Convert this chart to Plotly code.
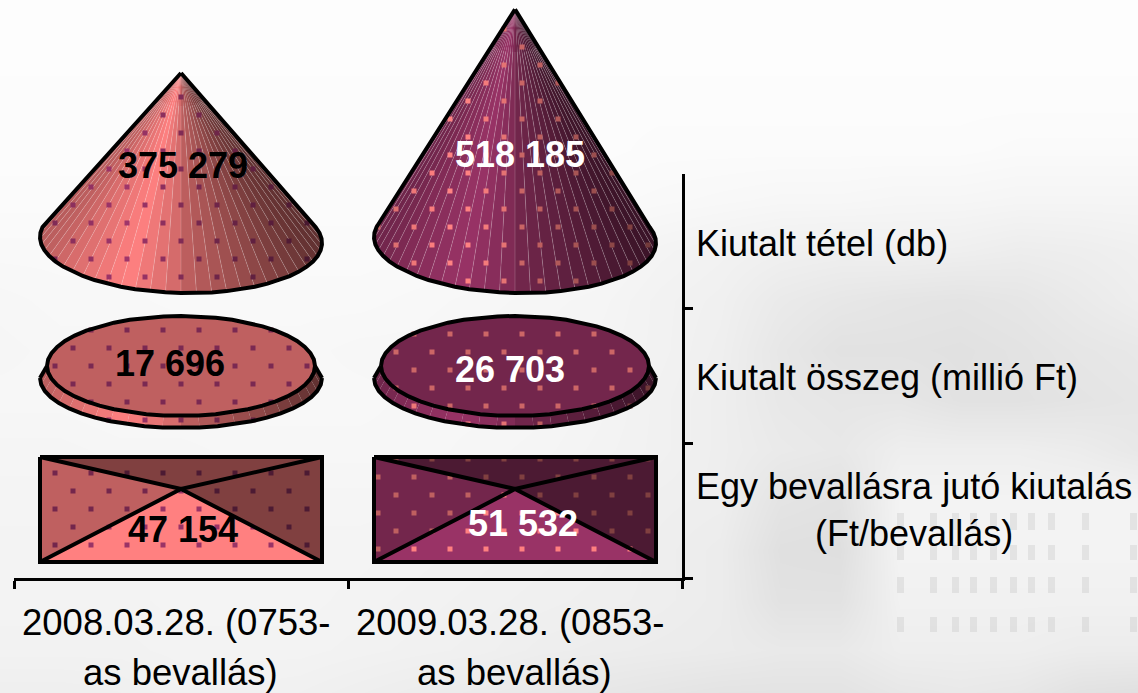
import numpy as np
import plotly.graph_objects as go

categories_line1 = ["2008.03.28. (0753-", "2009.03.28. (0853-"]
categories_line2 = ["as bevallás)", "as bevallás)"]
row_labels = ["Kiutalt tétel (db)", "Kiutalt összeg (millió Ft)",
              "Egy bevallásra jutó kiutalás<br>(Ft/bevallás)"]
kiutalt_tetel = [375279, 518185]
kiutalt_osszeg = [17696, 26703]
egy_bevallasra = [47154, 51532]

series_rgb = [(255, 128, 128), (153, 51, 102)]
dot_rgb = [(153, 51, 102), (255, 128, 128)]
label_rgb = ["#000000", "#ffffff"]

W, H = 1138, 693
CX = [181, 515]
A = 141
CONE_BASE_Y, CONE_B, CONE_SCALE = 240, 53, 167 / 375279
DISC_TOP_Y, DISC_BOT_Y, DISC_A, DISC_B = 366, 378, 134, 50
BOX_TOP, BOX_BOT, BOX_APEX = 457, 562, 489
LABEL_Y = [[169, 158], [367, 373], [533, 527]]
LABEL_DX = [[2, 5], [-11, -5], [2, 8]]
DOT_PHASE = [(181, 277, 348, 491), (504, 281, 352, 495)]

bg_rows = [
 [253]*20,
 [253]*20,
 [252]*20,
 [252,252,252,252,252,252,252,252,252,252,252,251,251,251,251,251,251,250,250,250],
 [251,251,251,251,251,251,251,251,250,250,250,249,248,247,247,246,246,245,245,245],
 [249,249,249,250,250,250,250,250,249,248,247,244,242,240,239,240,239,237,238,240],
 [247,248,248,249,249,249,249,248,247,246,245,242,240,234,231,229,228,230,234,238],
 [246,247,247,247,248,248,247,247,246,245,244,242,239,231,226,226,225,227,230,232],
 [247,247,248,248,248,248,248,247,247,246,244,241,238,232,230,230,226,226,228,230],
 [245,245,246,246,247,247,247,247,246,245,243,241,238,234,232,238,238,238,236,232],
 [244,244,244,245,245,245,245,245,244,243,241,239,238,228,226,243,243,243,243,243],
 [243,243,243,244,244,244,244,243,242,241,240,238,236,224,223,243,243,243,243,243],
 [243,243,243,244,244,244,243,242,241,240,239,238,236,226,226,241,241,241,241,241],
 [242,242,242,243,243,243,242,241,240,238,237,236,235,233,233,238,238,238,236,236],
 [238,238,239,241,241,240,238,236,234,232,230,228,226,226,226,230,232,230,224,222],
]
bg_z = np.array(bg_rows, dtype=float)
bg_x = np.arange(bg_z.shape[1]) * 60
bg_y = np.arange(bg_z.shape[0]) * 50

window_rows = [(513, 530), (545, 560), (577, 593), (617, 632)]
window_cols = [897, 930, 952, 970, 990, 1010, 1028, 1048, 1082, 1130]


def rgb(c, f=1.0):
    return "rgb(%d,%d,%d)" % tuple(min(255, round(v * f)) for v in c)


def shade(u):
    return float(np.interp(u, [-1, -.8, -.4, -.02, .02, .5, 1],
                           [.72, .85, 1, .82, .75, .58, .38]))


def inside(px, py, poly):
    xs, ys = np.array(poly[0]), np.array(poly[1])
    c = False
    j = len(xs) - 1
    for i in range(len(xs)):
        if (ys[i] > py) != (ys[j] > py):
            if px < (xs[j] - xs[i]) * (py - ys[i]) / (ys[j] - ys[i]) + xs[i]:
                c = not c
        j = i
    return c


def grid(x0, y0):
    pts = []
    for j in range(-20, 21):
        y = y0 + 18 * j
        off = 18 if j % 2 else 0
        for k in range(-12, 13):
            pts.append((x0 + off + 36 * k, y))
    return pts


def arc(cx, cy, a, b, n, tilt=0.0, over=0.0):
    t = np.linspace(np.pi + over, -over, n + 1)
    return cx + a * np.cos(t), cy + b * np.sin(t) + tilt * np.cos(t), t


fig = go.Figure()
fig.add_trace(go.Heatmap(x=bg_x, y=bg_y, z=bg_z, zmin=0, zmax=255, zsmooth="best",
                         colorscale=[[0, "#000000"], [1, "#ffffff"]], showscale=False,
                         hoverinfo="skip", xaxis="x", yaxis="y"))


def poly(xs, ys, color):
    fig.add_trace(go.Scatter(x=list(xs), y=list(ys), mode="lines", fill="toself",
                             fillcolor=color, line=dict(width=0), hoverinfo="skip",
                             showlegend=False, xaxis="x", yaxis="y"))


def stroke(xs, ys, width=4, color="#000000"):
    fig.add_trace(go.Scatter(x=list(xs), y=list(ys), mode="lines",
                             line=dict(width=width, color=color), hoverinfo="skip",
                             showlegend=False, xaxis="x", yaxis="y"))


def dots(xs, ys, cols):
    fig.add_trace(go.Scatter(x=xs, y=ys, mode="markers", hoverinfo="skip", showlegend=False,
                             marker=dict(symbol="square", size=5, color=cols, line=dict(width=0)),
                             xaxis="x", yaxis="y"))


# faint window rows of the backdrop photograph
wx, wy = [], []
for (y0, y1) in window_rows:
    for c in window_cols:
        wx += [c, c + 7, c + 7, c, c, None]
        wy += [y0, y0, y1, y1, y0, None]
poly(wx, wy, "rgba(120,120,120,0.13)")

for i, cx in enumerate(CX):
    base, dotc = series_rgb[i], dot_rgb[i]
    px0, y_cone, y_disc, y_box = DOT_PHASE[i]

    # cone
    apex_y = CONE_BASE_Y - kiutalt_tetel[i] * CONE_SCALE
    bx, by, t = arc(cx, CONE_BASE_Y, A, CONE_B, 34, tilt=3, over=0.3)
    hx, hy = [], []
    for m in range(34):
        u = np.cos((t[m] + t[m + 1]) / 2)
        poly([cx, bx[m], bx[m + 1], cx], [apex_y, by[m], by[m + 1], apex_y], rgb(base, shade(u)))
        hx += [cx + .15 * (bx[m] - cx), bx[m], None]
        hy += [apex_y + .15 * (by[m] - apex_y), by[m], None]
    stroke(hx, hy, 0.7, "rgba(255,255,255,0.25)")
    outline = ([cx] + list(bx), [apex_y] + list(by))
    xs, ys, cs = [], [], []
    for (x, y) in grid(px0, y_cone):
        if inside(x, y, outline):
            xs.append(x); ys.append(y); cs.append(rgb(dotc, shade((x - cx) / A) + .05))
    dots(xs, ys, cs)
    stroke([cx] + list(bx) + [cx], [apex_y] + list(by) + [apex_y])

    # disc
    bx, by, t = arc(cx, DISC_BOT_Y, A, DISC_B, 24)
    tx, ty, _ = arc(cx, DISC_TOP_Y, DISC_A, DISC_B, 24)
    for m in range(24):
        u = np.cos((t[m] + t[m + 1]) / 2)
        poly([tx[m], bx[m], bx[m + 1], tx[m + 1], tx[m]],
             [ty[m], by[m], by[m + 1], ty[m + 1], ty[m]], rgb(base, shade(u)))
    upper_x = list(tx) + list(tx[-2::-1])
    upper_y = list(ty) + list(2 * DISC_TOP_Y - ty[-2::-1])
    shell_x = list(bx) + list(tx[-2::-1])
    shell_y = list(by) + list(2 * DISC_TOP_Y - ty[-2::-1])
    poly(upper_x, upper_y, rgb(base, .75))
    xs, ys, cs = [], [], []
    for (x, y) in grid(px0, y_disc):
        if inside(x, y, (shell_x, shell_y)):
            xs.append(x); ys.append(y)
            on_top = inside(x, y, (upper_x, upper_y))
            cs.append(rgb(dotc, .8 if on_top else shade((x - cx) / A) + .05))
    dots(xs, ys, cs)
    stroke(upper_x, upper_y)
    stroke(shell_x[:len(bx)], shell_y[:len(bx)])
    stroke([tx[0], bx[0]], [ty[0], by[0]])
    stroke([tx[-1], bx[-1]], [ty[-1], by[-1]])

    # box
    L, R = cx - A, cx + A
    tri = {"top": .5, "left": .75, "right": .5, "bottom": 1.0}
    poly([L, R, cx, L], [BOX_TOP, BOX_TOP, BOX_APEX, BOX_TOP], rgb(base, tri["top"]))
    poly([L, L, cx, L], [BOX_TOP, BOX_BOT, BOX_APEX, BOX_TOP], rgb(base, tri["left"]))
    poly([R, R, cx, R], [BOX_TOP, BOX_BOT, BOX_APEX, BOX_TOP], rgb(base, tri["right"]))
    poly([L, R, cx, L], [BOX_BOT, BOX_BOT, BOX_APEX, BOX_BOT], rgb(base, tri["bottom"]))
    xs, ys, cs = [], [], []
    for (x, y) in grid(px0, y_box):
        if L < x < R and BOX_TOP < y < BOX_BOT:
            dx = abs(x - cx) / A
            if y >= BOX_APEX and dx < (y - BOX_APEX) / (BOX_BOT - BOX_APEX):
                f = tri["bottom"]
            elif y < BOX_APEX and dx < (BOX_APEX - y) / (BOX_APEX - BOX_TOP):
                f = tri["top"]
            else:
                f = tri["left"] if x < cx else tri["right"]
            xs.append(x); ys.append(y); cs.append(rgb(dotc, f))
    dots(xs, ys, cs)
    stroke([L, R, R, L, L], [BOX_TOP, BOX_TOP, BOX_BOT, BOX_BOT, BOX_TOP])
    stroke([L, cx, R, None, L, cx, R], [BOX_TOP, BOX_APEX, BOX_TOP, None, BOX_BOT, BOX_APEX, BOX_BOT])

    # data labels
    for r, vals in enumerate([kiutalt_tetel, kiutalt_osszeg, egy_bevallasra]):
        fig.add_trace(go.Scatter(x=[cx + LABEL_DX[r][i]], y=[LABEL_Y[r][i]], mode="text",
                                 text=[f"{vals[i]:,}".replace(",", " ")],
                                 textposition="middle center", hoverinfo="skip", showlegend=False,
                                 textfont=dict(family="Liberation Sans", size=36, color=label_rgb[i],
                                               weight="bold"),
                                 xaxis="x", yaxis="y"))

annotations = []
for i, cx in enumerate(CX):
    annotations.append(dict(x=i, y=622, xref="x2", yref="y", text=categories_line1[i], showarrow=False,
                            xshift=-5, font=dict(family="Liberation Sans", size=36.5, color="#000")))
    annotations.append(dict(x=i, y=672, xref="x2", yref="y", text=categories_line2[i], showarrow=False,
                            xshift=-1, font=dict(family="Liberation Sans", size=36.5, color="#000")))
for r, (lab, ypos) in enumerate(zip(row_labels, [2.5, 1.5, 0.5])):
    annotations.append(dict(x=694 / W, y=ypos, yshift=[-2, -1, 1][r], xref="paper", yref="y2", text=lab,
                            showarrow=False, xanchor="left", align="center",
                            font=dict(family="Liberation Sans", size=36, color="#000")))

fig.update_layout(
    width=W, height=H, autosize=False, margin=dict(l=0, r=0, t=0, b=0),
    paper_bgcolor="#ffffff", plot_bgcolor="rgba(0,0,0,0)", showlegend=False,
    annotations=annotations,
    xaxis=dict(domain=[0, 1], range=[0, W], visible=False, fixedrange=True),
    yaxis=dict(domain=[0, 1], range=[H, 0], visible=False, fixedrange=True),
    xaxis2=dict(domain=[14 / W, 682 / W], range=[-0.5, 1.5], anchor="y2", showgrid=False, zeroline=False,
                showline=True, linecolor="#000", linewidth=3, tickvals=[0, 1], ticktext=["", ""], ticks="",
                minor=dict(tickvals=[-0.5, 0.5, 1.5], ticks="outside", ticklen=8, tickwidth=3, tickcolor="#000",
                           showgrid=False)),
    yaxis2=dict(domain=[(H - 578) / H, (H - 174) / H], range=[0, 3], anchor="x2", side="right",
                showgrid=False, zeroline=False, showline=True, linecolor="#000", linewidth=3,
                tickvals=[0.5, 1.5, 2.5], ticktext=["", "", ""], ticks="",
                minor=dict(tickvals=[0, 1, 2], ticks="outside", ticklen=8, tickwidth=3, tickcolor="#000",
                           showgrid=False)),
)
# empty trace so the axis pair is drawn
fig.add_trace(go.Scatter(x=[0], y=[0], mode="markers", marker=dict(opacity=0), hoverinfo="skip",
                         showlegend=False, xaxis="x2", yaxis="y2"))
fig.write_html("out.html", config={"displayModeBar": False},
               post_script="document.body.style.margin='0';document.documentElement.style.overflow='hidden';")
